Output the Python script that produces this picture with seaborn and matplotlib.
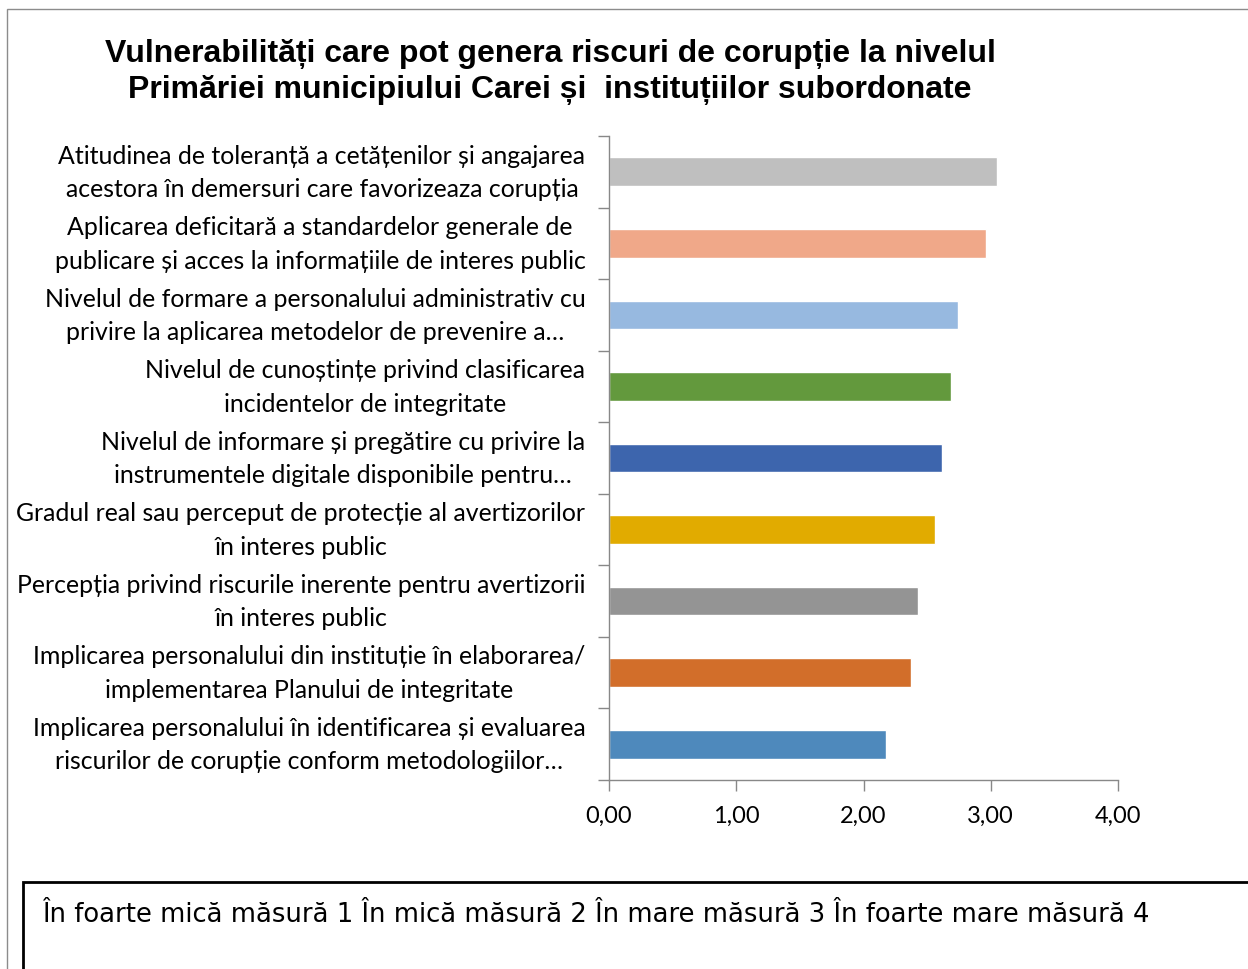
import matplotlib
matplotlib.use('Agg')
import matplotlib.pyplot as plt
import seaborn as sns
import pandas as pd
from matplotlib.patches import Rectangle
from matplotlib.ticker import FixedLocator, FuncFormatter

# categories from top to bottom, as in the chart
categories = [
    'Atitudinea de toleranță a cetățenilor și angajarea\nacestora în demersuri care favorizeaza corupția',
    'Aplicarea deficitară a standardelor generale de\npublicare și acces la informațiile de interes public',
    'Nivelul de formare a personalului administrativ cu\nprivire la aplicarea metodelor de prevenire a…',
    'Nivelul de cunoștințe privind clasificarea\nincidentelor de integritate',
    'Nivelul de informare și pregătire cu privire la\ninstrumentele digitale disponibile pentru…',
    'Gradul real sau perceput de protecție al avertizorilor\nîn interes public',
    'Percepția privind riscurile inerente pentru avertizorii\nîn interes public',
    'Implicarea personalului din instituție în elaborarea/\nimplementarea Planului de integritate',
    'Implicarea personalului în identificarea și evaluarea\nriscurilor de corupție conform metodologiilor…',
]
scores = [3.05, 2.96, 2.74, 2.69, 2.62, 2.56, 2.43, 2.37, 2.18]
bar_colors = ['#BFBFBF', '#F0A889', '#97B9E0', '#63993D', '#3D65AD',
              '#E1AB00', '#949494', '#D26E2A', '#4E89BC']
x_ticks = [0, 1, 2, 3, 4]

title = ('Vulnerabilități care pot genera riscuri de corupție la nivelul\n'
         'Primăriei municipiului Carei și  instituțiilor subordonate')
scale_note = 'În foarte mică măsură 1 În mică măsură 2 În mare măsură 3 În foarte mare măsură 4'

df = pd.DataFrame({'categorie': categories, 'scor': scores})

sns.set_theme(style='white')
plt.rcParams['font.family'] = ['Lato', 'DejaVu Sans']
plt.rcParams['text.color'] = 'black'
plt.rcParams['xtick.labelcolor'] = 'black'
plt.rcParams['ytick.labelcolor'] = 'black'

fig = plt.figure(figsize=(12.48, 9.70), dpi=100)
ax = fig.add_axes([609 / 1248, 1 - 781 / 970, (1118 - 609) / 1248, (781 - 137) / 970])

sns.barplot(data=df, x='scor', y='categorie', hue='categorie', palette=bar_colors,
            order=categories, width=0.4, legend=False, ax=ax, saturation=1)

ax.set_xlim(0, 4)
ax.set_ylim(len(categories) - 0.5, -0.5)
ax.set_xticks(x_ticks)
ax.xaxis.set_major_formatter(FuncFormatter(lambda v, p: f'{v:.2f}'.replace('.', ',')))
ax.tick_params(axis='x', direction='out', length=8, width=1, color='#888888',
               labelsize=17, pad=10, bottom=True, labelcolor='black')
ax.tick_params(axis='y', which='major', length=0, pad=17, labelsize=17.9, labelcolor='black')
ax.yaxis.set_minor_locator(FixedLocator([i - 0.5 for i in range(len(categories) + 1)]))
ax.tick_params(axis='y', which='minor', direction='out', length=8, width=1,
               color='#888888', left=True)
for lab in ax.get_yticklabels():
    lab.set_linespacing(1.55)
    lab.set_horizontalalignment('right')
    lab.set_verticalalignment('center')
    lab.set_multialignment('center')
ax.set_xlabel('')
ax.set_ylabel('')

for side in ['top', 'right']:
    ax.spines[side].set_visible(False)
for side in ['left', 'bottom']:
    ax.spines[side].set_color('#888888')
    ax.spines[side].set_linewidth(1)

fig.text(550 / 1248, 1 - 72 / 970, title, ha='center', va='center', color='black',
         fontsize=23, fontweight='bold', family='Liberation Sans', linespacing=1.27)

# outer chart frame and the note box below it
fig.patches.append(Rectangle((7 / 1248, -0.1), 1.2, 1 - 10 / 970 + 0.1,
                             transform=fig.transFigure, fill=False,
                             edgecolor='#8c8c8c', linewidth=1))
fig.patches.append(Rectangle((23 / 1248, -0.1), 1.2, 1 - 883 / 970 + 0.1,
                             transform=fig.transFigure, facecolor='white',
                             edgecolor='black', linewidth=2))
fig.text(42 / 1248, 1 - 915 / 970, scale_note, ha='left', va='center', color='black',
         fontsize=18.6, family='DejaVu Sans')

fig.savefig('out.png', dpi=100)
